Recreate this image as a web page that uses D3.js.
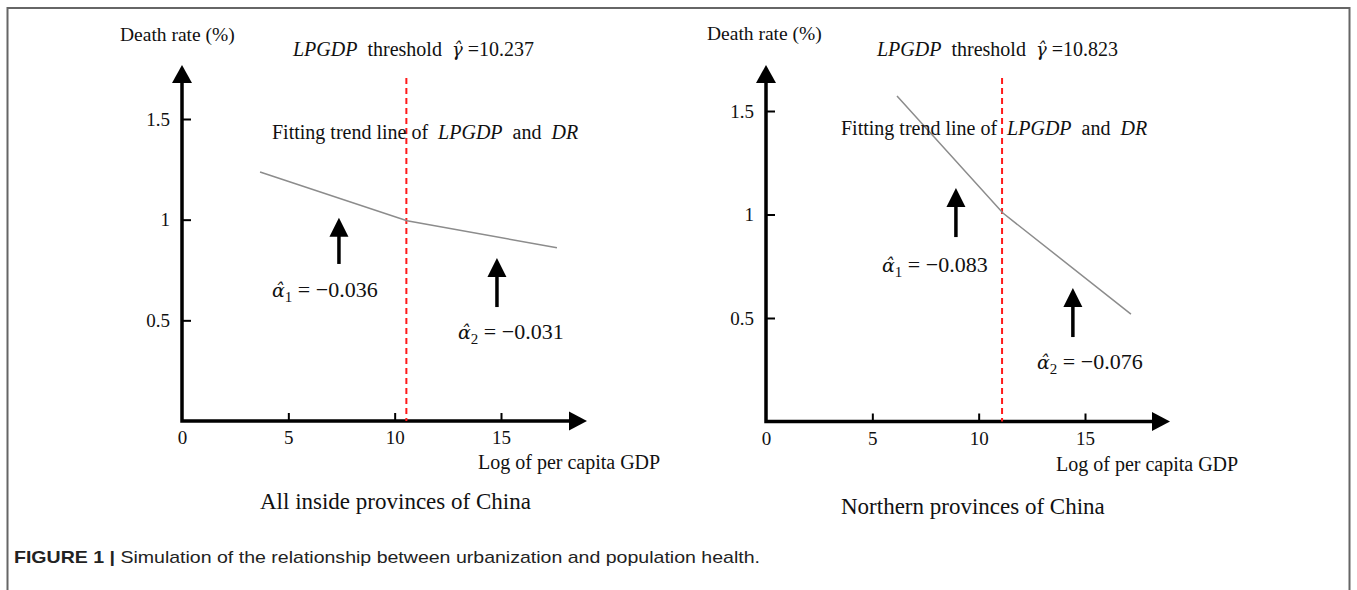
<!DOCTYPE html>
<html lang="en">
<head>
    <meta charset="UTF-8">
    <title>Urbanization and population health</title>
    <script src="https://cdn.jsdelivr.net/npm/d3@7"></script>
    <style>
        body { margin: 0; background: #fff; }
        svg { display: block; }
        text { font-family: "Liberation Serif", "Times New Roman", serif; fill: #111; white-space: pre; }
        .tick text { font-size: 19px; }
        .caption { font-family: "Liberation Sans", Arial, sans-serif; font-size: 17px; fill: #222; }
        .math { font-family: "DejaVu Serif", "Liberation Serif", serif; }
    </style>
</head>
<body>
<svg id="chart" width="1357" height="590"></svg>
<script>
    // values
    var xTicks = [0, 5, 10, 15]
    var yTicks = [0.5, 1, 1.5]
    var panelTitles = ['All inside provinces of China', 'Northern provinces of China']
    var thresholds = ['10.237', '10.823']
    var alpha1 = ['\u22120.036', '\u22120.083']
    var alpha2 = ['\u22120.031', '\u22120.076']
    // fitted trend lines [LPGDP, DR]
    var trendAll = [[3.67, 1.237], [10.58, 0.995], [17.63, 0.86]]
    var trendNorth = [[6.16, 1.572], [11.14, 1.007], [17.16, 0.519]]
    // where the dashed threshold line is drawn
    var dashX = [10.55, 11.1]
    // up arrows under the labels: x, bottom, tip
    var arrowsAll = [[7.38, 0.78, 1.01], [14.81, 0.566, 0.81]]
    var arrowsNorth = [[8.93, 0.891, 1.128], [14.43, 0.408, 0.645]]

    var svg = d3.select('#chart')

    // figure frame
    svg.append('path').attr('d', 'M7.5,590 V8 H1349.5 V590')
      .attr('fill', 'none').attr('stroke', '#666').attr('stroke-width', 2)

    var panels = [
        {
            xRange: [182, 501], yRange: [421, 119], xEnd: 587, yTop: 65,
            trend: trendAll, arrows: arrowsAll,
            death: [120, 41], thr: [293, 56], fit: [272, 139], log: [478, 469], title: [260, 509],
            a1: [272, 297], a2: [458, 339]
        },
        {
            xRange: [766, 1085], yRange: [421.5, 111], xEnd: 1170, yTop: 65,
            trend: trendNorth, arrows: arrowsNorth,
            death: [707, 40], thr: [877, 56], fit: [841, 135], log: [1056, 471], title: [841, 514],
            a1: [882, 272], a2: [1037, 369]
        }
    ]

    panels.forEach(function (p, i) {
        var x = d3.scaleLinear().domain([0, 15]).range(p.xRange)
        var y = d3.scaleLinear().domain([0, 1.5]).range(p.yRange)
        var g = svg.append('g')
        var x0 = x(0), y0 = y(0)

        // ticks and labels
        g.append('g').attr('transform', 'translate(0,' + y0 + ')')
          .call(d3.axisBottom(x).tickValues(xTicks).tickSizeInner(-8).tickSizeOuter(0).tickPadding(10)
            .tickFormat(d3.format('d')))
          .call(function (a) {
              a.select('.domain').remove()
              a.selectAll('line').attr('stroke', '#000').attr('stroke-width', 2)
              a.selectAll('.tick').filter(function (d) { return d === 0 }).select('line').remove()
              a.selectAll('text').attr('font-family', null).attr('font-size', null).attr('fill', '#111')
          })
        g.append('g').attr('transform', 'translate(' + x0 + ',0)')
          .call(d3.axisLeft(y).tickValues(yTicks).tickSizeInner(-9).tickSizeOuter(0).tickPadding(12)
            .tickFormat(function (d) { return String(d) }))
          .call(function (a) {
              a.select('.domain').remove()
              a.selectAll('line').attr('stroke', '#000').attr('stroke-width', 2)
              a.selectAll('text').attr('font-family', null).attr('font-size', null).attr('fill', '#111')
          })

        // axis lines with arrow heads
        g.append('path').attr('d', 'M' + x0 + ',' + (p.yTop + 14) + ' V' + y0 + ' H' + (p.xEnd - 14))
          .attr('fill', 'none').attr('stroke', '#000').attr('stroke-width', 3.5)
        g.append('path').attr('d', 'M' + x0 + ',' + p.yTop + ' L' + (x0 + 10) + ',' + (p.yTop + 18) +
          ' L' + (x0 - 10) + ',' + (p.yTop + 18) + ' Z').attr('fill', '#000')
        g.append('path').attr('d', 'M' + p.xEnd + ',' + y0 + ' L' + (p.xEnd - 18) + ',' + (y0 - 9.5) +
          ' L' + (p.xEnd - 18) + ',' + (y0 + 9.5) + ' Z').attr('fill', '#000')

        // threshold line
        g.append('line').attr('x1', x(dashX[i])).attr('x2', x(dashX[i]))
          .attr('y1', 78).attr('y2', y0)
          .attr('stroke', '#ff1a1a').attr('stroke-width', 2).attr('stroke-dasharray', '6,4')

        // trend line
        var line = d3.line().x(function (d) { return x(d[0]) }).y(function (d) { return y(d[1]) })
        g.append('path').datum(p.trend).attr('d', line)
          .attr('fill', 'none').attr('stroke', '#8c8c8c').attr('stroke-width', 1.5)

        // up arrows
        p.arrows.forEach(function (a) {
            var ax = x(a[0]), yb = y(a[1]), yt = y(a[2])
            g.append('line').attr('x1', ax).attr('x2', ax).attr('y1', yb).attr('y2', yt + 15)
              .attr('stroke', '#000').attr('stroke-width', 3.5)
            g.append('path').attr('d', 'M' + ax + ',' + yt + ' L' + (ax + 9.5) + ',' + (yt + 19) +
              ' L' + (ax - 9.5) + ',' + (yt + 19) + ' Z').attr('fill', '#000')
        })

        // texts
        g.append('text').attr('x', p.death[0]).attr('y', p.death[1]).attr('font-size', 19.5).text('Death rate (%)')

        var t = g.append('text').attr('x', p.thr[0]).attr('y', p.thr[1]).attr('font-size', 20)
        t.append('tspan').attr('font-style', 'italic').text('LPGDP')
        t.append('tspan').text('  threshold  ')
        t.append('tspan').attr('class', 'math').attr('font-size', 18).attr('font-style', 'italic').text('\u03b3\u0302')
        t.append('tspan').text(' =' + thresholds[i])

        var f = g.append('text').attr('x', p.fit[0]).attr('y', p.fit[1]).attr('font-size', 20)
        f.append('tspan').text('Fitting trend line of  ')
        f.append('tspan').attr('font-style', 'italic').text('LPGDP')
        f.append('tspan').text('  and  ')
        f.append('tspan').attr('font-style', 'italic').text('DR')

        g.append('text').attr('x', p.log[0]).attr('y', p.log[1]).attr('font-size', 20).text('Log of per capita GDP')
        g.append('text').attr('x', p.title[0]).attr('y', p.title[1]).attr('font-size', 23).text(panelTitles[i])

        ;[[p.a1, '1', alpha1[i]], [p.a2, '2', alpha2[i]]].forEach(function (s) {
            var m = g.append('text').attr('x', s[0][0]).attr('y', s[0][1]).attr('font-size', 22)
            m.append('tspan').attr('class', 'math').attr('font-size', 19).attr('font-style', 'italic').text('\u03b1\u0302')
            m.append('tspan').attr('font-size', 15).attr('dy', 5).text(s[1])
            m.append('tspan').attr('dy', -5).text(' = ' + s[2])
        })
    })

    // caption
    var cap = svg.append('text').attr('class', 'caption').attr('x', 14).attr('y', 563)
      .attr('textLength', 746).attr('lengthAdjust', 'spacingAndGlyphs')
    cap.append('tspan').attr('font-weight', 'bold').text('FIGURE 1 | ')
    cap.append('tspan').text('Simulation of the relationship between urbanization and population health.')
</script>
</body>
</html>
